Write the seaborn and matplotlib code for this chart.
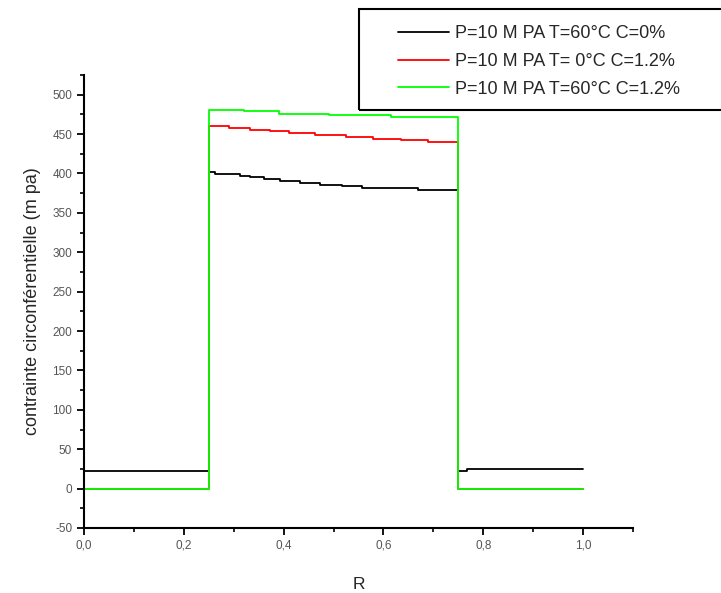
import matplotlib
matplotlib.use("Agg")
import matplotlib.pyplot as plt
import seaborn as sns
import pandas as pd
from matplotlib.patches import Rectangle
from matplotlib.ticker import MultipleLocator, FuncFormatter

# Radial position breakpoints and circumferential stress (MPa), step-wise
r_c0 = [0, 0.25, 0.263, 0.313, 0.333, 0.36, 0.393, 0.433, 0.473, 0.517,
        0.557, 0.67, 0.75, 0.768, 1.0]
s_c0 = [22.6, 401.8, 399.2, 397.0, 395.0, 392.9, 390.3, 387.8, 385.6, 383.5,
        381.4, 379.2, 22.6, 24.8, 24.8]

r_t0 = [0, 0.25, 0.291, 0.332, 0.372, 0.41, 0.463, 0.525, 0.579, 0.635,
        0.69, 0.75, 1.0]
s_t0 = [0, 460.0, 458.0, 455.8, 453.7, 451.5, 449.4, 446.4, 444.3, 442.0,
        440.0, 0, 0]

r_t60 = [0, 0.25, 0.32, 0.39, 0.49, 0.615, 0.75, 1.0]
s_t60 = [0, 480.5, 478.7, 476.0, 474.0, 471.5, 0, 0]

labels = ["P=10 M PA T=60°C C=0%",
          "P=10 M PA T= 0°C C=1.2%",
          "P=10 M PA T=60°C C=1.2%"]
colors = ["#000000", "#ff0000", "#00ff00"]

x_ticks = [0.0, 0.2, 0.4, 0.6, 0.8, 1.0]
y_ticks = [-50, 0, 50, 100, 150, 200, 250, 300, 350, 400, 450, 500]

sns.set_style("ticks")
plt.rcParams["font.family"] = ["Liberation Sans", "DejaVu Sans"]
plt.rcParams["axes.unicode_minus"] = False

fig = plt.figure(figsize=(7.21, 5.93), dpi=100)
ax = fig.add_axes([84 / 721, 1 - 528 / 593, (633 - 84) / 721, (528 - 75) / 593])

series = [(r_c0, s_c0), (r_t0, s_t0), (r_t60, s_t60)]
handles = []
for (r, s), lab, col in zip(series, labels, colors):
    df = pd.DataFrame({"R": r, "stress": s})
    sns.lineplot(data=df, x="R", y="stress", ax=ax, color=col, lw=1.3,
                 drawstyle="steps-post", estimator=None, sort=False,
                 label=lab, legend=False)
    handles.append(ax.lines[-1])

ax.set_xlim(0, 1.1)
ax.set_ylim(-50, 525)
ax.set_xticks(x_ticks)
ax.set_yticks(y_ticks)
ax.xaxis.set_minor_locator(MultipleLocator(0.1))
ax.yaxis.set_minor_locator(MultipleLocator(25))
ax.xaxis.set_major_formatter(FuncFormatter(lambda v, p: f"{v:.1f}".replace(".", ",")))

for side in ("top", "right"):
    ax.spines[side].set_visible(False)
for side in ("left", "bottom"):
    ax.spines[side].set_linewidth(1.5)
    ax.spines[side].set_color("black")

ax.tick_params(which="major", direction="out", length=5, width=1.3,
               colors="black", labelcolor="#555555", labelsize=8.5)
ax.tick_params(which="minor", direction="out", length=3, width=1.2, colors="black")

ax.set_xlabel("R", fontsize=12.5, labelpad=18)
ax.set_ylabel("contrainte circonférentielle (m pa)", fontsize=13, labelpad=8)

# Legend box, running past the right edge of the figure
fig.patches.append(Rectangle((359 / 721, 1 - 110 / 593), 0.6, 101 / 593,
                             transform=fig.transFigure, fill=False,
                             edgecolor="black", lw=1.5))
fig.legend(handles=handles, labels=labels, loc="upper left",
           bbox_to_anchor=(389 / 721, 1 - 16 / 593), frameon=False,
           fontsize=13, handlelength=2.8, handletextpad=0.35,
           labelspacing=0.6, borderpad=0)

fig.savefig("out.png", dpi=100)
